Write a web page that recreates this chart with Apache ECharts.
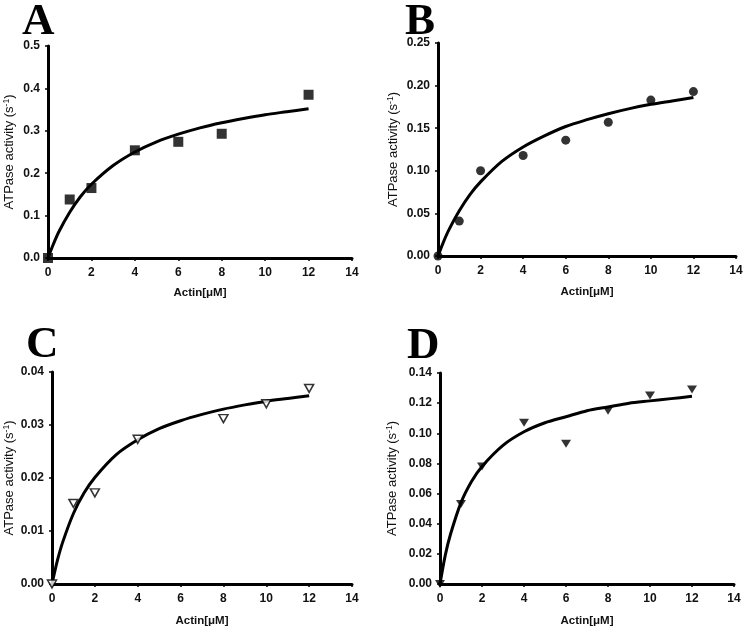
<!DOCTYPE html>
<html>
<head>
<meta charset="utf-8">
<script src="https://cdn.jsdelivr.net/npm/echarts@6/dist/echarts.min.js"></script>
<style>
html,body{margin:0;padding:0;background:#fff;}
#chart{width:745px;height:631px;}
</style>
</head>
<body>
<div id="chart"></div>
<script>
// Measured data points (Actin µM vs ATPase activity s^-1)
const actinA = [0, 1, 2, 4, 6, 8, 12];
const atpaseA = [0, 0.138, 0.165, 0.254, 0.274, 0.293, 0.385];
const actinB = [0, 1, 2, 4, 6, 8, 10, 12];
const atpaseB = [0, 0.041, 0.100, 0.118, 0.136, 0.157, 0.183, 0.193];
const actinC = [0, 1, 2, 4, 8, 10, 12];
const atpaseC = [0, 0.0152, 0.0172, 0.0273, 0.0312, 0.0340, 0.0369];
const actinD = [0, 1, 2, 4, 6, 8, 10, 12];
const atpaseD = [0, 0.053, 0.078, 0.107, 0.093, 0.115, 0.125, 0.129];

// Fitted curves
const fitX = [0, 0.25, 0.5, 1, 1.5, 2, 3, 4, 5, 6, 7, 8, 9, 10, 11, 12];
const fitA = [0, 0.033, 0.062, 0.108, 0.145, 0.174, 0.218, 0.250, 0.274, 0.292, 0.307, 0.319, 0.329, 0.338, 0.345, 0.352];
const fitB = [0, 0.016, 0.030, 0.053, 0.072, 0.087, 0.111, 0.128, 0.141, 0.152, 0.160, 0.167, 0.173, 0.178, 0.182, 0.186];
const fitC = [0, 0.0044, 0.0079, 0.0133, 0.0172, 0.0201, 0.0244, 0.0272, 0.0293, 0.0308, 0.0320, 0.0330, 0.0338, 0.0345, 0.0350, 0.0355];
const fitD = [0, 0.019, 0.033, 0.054, 0.068, 0.078, 0.092, 0.101, 0.107, 0.111, 0.115, 0.1175, 0.120, 0.1215, 0.123, 0.1245];

// Tick labels
const xTicks = ['0', '2', '4', '6', '8', '10', '12', '14'];
const yTicksA = ['0.0', '0.1', '0.2', '0.3', '0.4', '0.5'];
const yTicksB = ['0.00', '0.05', '0.10', '0.15', '0.20', '0.25'];
const yTicksC = ['0.00', '0.01', '0.02', '0.03', '0.04'];
const yTicksD = ['0.00', '0.02', '0.04', '0.06', '0.08', '0.10', '0.12', '0.14'];

const panelLetters = ['A', 'B', 'C', 'D'];
const xTitle = 'Actin[\u03bcM]';
const yTitle = 'ATPase activity (s{sup|-1})';

const pairs = (xs, ys) => xs.map((x, i) => [x, ys[i]]);

const grids = [
  {left: 48, top: 46, width: 304, height: 212},
  {left: 438, top: 43, width: 298, height: 213},
  {left: 52, top: 372, width: 300, height: 212},
  {left: 440, top: 373, width: 294, height: 211}
];
const yTickSets = [yTicksA, yTicksB, yTicksC, yTicksD];
const yNameGaps = [31, 37, 35, 40];
const xNameGaps = [29, 30, 31, 31];

const tickFont = {fontFamily: 'Liberation Sans, Arial, sans-serif', fontWeight: 'bold', fontSize: 12, color: '#111'};

const xAxes = grids.map((g, i) => ({
  type: 'value', gridIndex: i, min: 0, max: 14, interval: 2,
  name: xTitle, nameLocation: 'middle', nameGap: xNameGaps[i],
  nameTextStyle: {fontFamily: 'Liberation Sans, Arial, sans-serif', fontWeight: 'bold', fontSize: 11.5, color: '#111'},
  axisLine: {show: true, onZero: false, lineStyle: {color: '#000', width: 3}},
  axisTick: {show: true, inside: false, length: 3, lineStyle: {color: '#000', width: 1.5}},
  axisLabel: Object.assign({margin: 9, formatter: (v) => xTicks[Math.round(v / 2)]}, tickFont),
  splitLine: {show: false}
}));

const yAxes = grids.map((g, i) => {
  const t = yTickSets[i];
  const max = parseFloat(t[t.length - 1]);
  const step = parseFloat(t[1]);
  return {
    type: 'value', gridIndex: i, min: 0, max: max, interval: step,
    name: yTitle, nameLocation: 'middle', nameGap: yNameGaps[i], nameRotate: 90,
    nameTextStyle: {
      fontFamily: 'Liberation Sans, Arial, sans-serif', fontSize: 13, color: '#111',
      rich: {sup: {fontFamily: 'Liberation Sans, Arial, sans-serif', fontSize: 8.5, color: '#111', verticalAlign: 'top', padding: [0, 0, 6, 0]}}
    },
    axisLine: {show: true, onZero: false, lineStyle: {color: '#000', width: 3}},
    axisTick: {show: true, inside: false, length: 3, lineStyle: {color: '#000', width: 1.5}},
    axisLabel: Object.assign({margin: 8, formatter: (v) => t[Math.round(v / step)]}, tickFont),
    splitLine: {show: false}
  };
});

const fits = [fitA, fitB, fitC, fitD];
const scatterData = [pairs(actinA, atpaseA), pairs(actinB, atpaseB), pairs(actinC, atpaseC), pairs(actinD, atpaseD)];
const markerStyles = [
  {symbol: 'rect', symbolSize: 10, itemStyle: {color: '#000'}},
  {symbol: 'circle', symbolSize: 9, itemStyle: {color: '#000'}},
  {symbol: 'triangle', symbolSize: [9, 8], symbolRotate: 180, itemStyle: {color: '#fff', borderColor: '#000', borderWidth: 1.5}},
  {symbol: 'triangle', symbolSize: [10, 8], symbolRotate: 180, itemStyle: {color: '#000'}}
];

const series = [];
for (let i = 0; i < 4; i++) {
  series.push({
    type: 'line', xAxisIndex: i, yAxisIndex: i, data: pairs(fitX, fits[i]),
    showSymbol: false, symbol: 'none', smooth: 0.3,
    lineStyle: {color: '#000', width: 3}, z: 2
  });
  series.push(Object.assign({
    type: 'scatter', xAxisIndex: i, yAxisIndex: i, data: scatterData[i], clip: false, z: 3
  }, markerStyles[i]));
}

const letterPos = [[22, 22], [405, 22], [26, 345], [407, 346]];
const graphics = panelLetters.map((L, i) => ({
  type: 'text', x: letterPos[i][0], y: letterPos[i][1],
  style: {text: L, fill: '#000', font: 'bold 45px "Liberation Serif", "Times New Roman", serif', textAlign: 'left', textVerticalAlign: 'middle', verticalAlign: 'middle'}
}));

const chart = echarts.init(document.getElementById('chart'), null, {renderer: 'canvas'});
chart.setOption({
  animation: false,
  backgroundColor: '#fff',
  grid: grids.map(g => Object.assign({containLabel: false, outerBoundsMode: 'none'}, g)),
  xAxis: xAxes,
  yAxis: yAxes,
  series: series,
  graphic: graphics
});
</script>
</body>
</html>
